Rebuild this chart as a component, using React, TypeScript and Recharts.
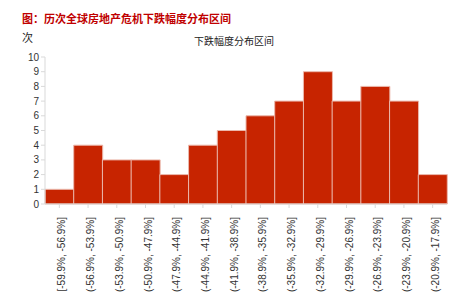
import React from 'react';
import { BarChart, Bar, XAxis, YAxis } from 'recharts';

const categories = [
  '[-59.9%, -56.9%]',
  '(-56.9%, -53.9%]',
  '(-53.9%, -50.9%]',
  '(-50.9%, -47.9%]',
  '(-47.9%, -44.9%]',
  '(-44.9%, -41.9%]',
  '(-41.9%, -38.9%]',
  '(-38.9%, -35.9%]',
  '(-35.9%, -32.9%]',
  '(-32.9%, -29.9%]',
  '(-29.9%, -26.9%]',
  '(-26.9%, -23.9%]',
  '(-23.9%, -20.9%]',
  '(-20.9%, -17.9%]',
];
const counts = [1, 4, 3, 3, 2, 4, 5, 6, 7, 9, 7, 8, 7, 2];
const yTicks = [0, 1, 2, 3, 4, 5, 6, 7, 8, 9, 10];

const data = categories.map((name, i) => ({ name, value: counts[i] }));

const font = '"Liberation Sans", Arial, sans-serif';
const cjk = '"Noto Sans CJK SC", sans-serif';

const RotatedTick = (props: any) => {
  const { x, y, payload } = props;
  return (
    <g transform={`translate(${x},${y})`}>
      <text
        transform="rotate(-90)"
        x={-7}
        y={0}
        dy="0.6em"
        textAnchor="end"
        fontSize={10}
        fill="#333"
        fontFamily={font}
      >
        {payload.value}
      </text>
    </g>
  );
};

const App: React.FC = () => {
  return (
    <div style={{ position: 'absolute', left: 0, top: 0, width: 455, height: 295, background: '#fff' }}>
      <div
        style={{
          position: 'absolute',
          left: 22,
          top: 10,
          fontSize: 11,
          lineHeight: '16px',
          fontWeight: 700,
          color: '#C00000',
          fontFamily: cjk,
          whiteSpace: 'nowrap',
        }}
      >
        图：历次全球房地产危机下跌幅度分布区间
      </div>
      <div style={{ position: 'absolute', left: 22, top: 29, fontSize: 11, lineHeight: '16px', color: '#222', fontFamily: cjk }}>
        次
      </div>
      <div
        style={{
          position: 'absolute',
          left: 194,
          top: 34,
          fontSize: 10,
          lineHeight: '14px',
          color: '#222',
          fontFamily: cjk,
          whiteSpace: 'nowrap',
        }}
      >
        下跌幅度分布区间
      </div>
      <BarChart
        width={455}
        height={295}
        data={data}
        margin={{ top: 57, right: 8, bottom: 0, left: 0 }}
        barCategoryGap={0}
      >
        <XAxis
          dataKey="name"
          interval={0}
          height={91}
          tick={<RotatedTick />}
          tickSize={4}
          axisLine={{ stroke: '#d9d9d9' }}
          tickLine={{ stroke: '#d9d9d9' }}
        />
        <YAxis
          width={45}
          domain={[0, 10]}
          ticks={yTicks}
          interval={0}
          tickSize={4}
          tick={{ fontSize: 10, fill: '#333', fontFamily: font }}
          axisLine={{ stroke: '#d9d9d9' }}
          tickLine={{ stroke: '#d9d9d9' }}
        />
        <Bar dataKey="value" fill="#C72400" stroke="#EBB8AC" strokeWidth={1} isAnimationActive={false} />
      </BarChart>
    </div>
  );
};

export default App;
